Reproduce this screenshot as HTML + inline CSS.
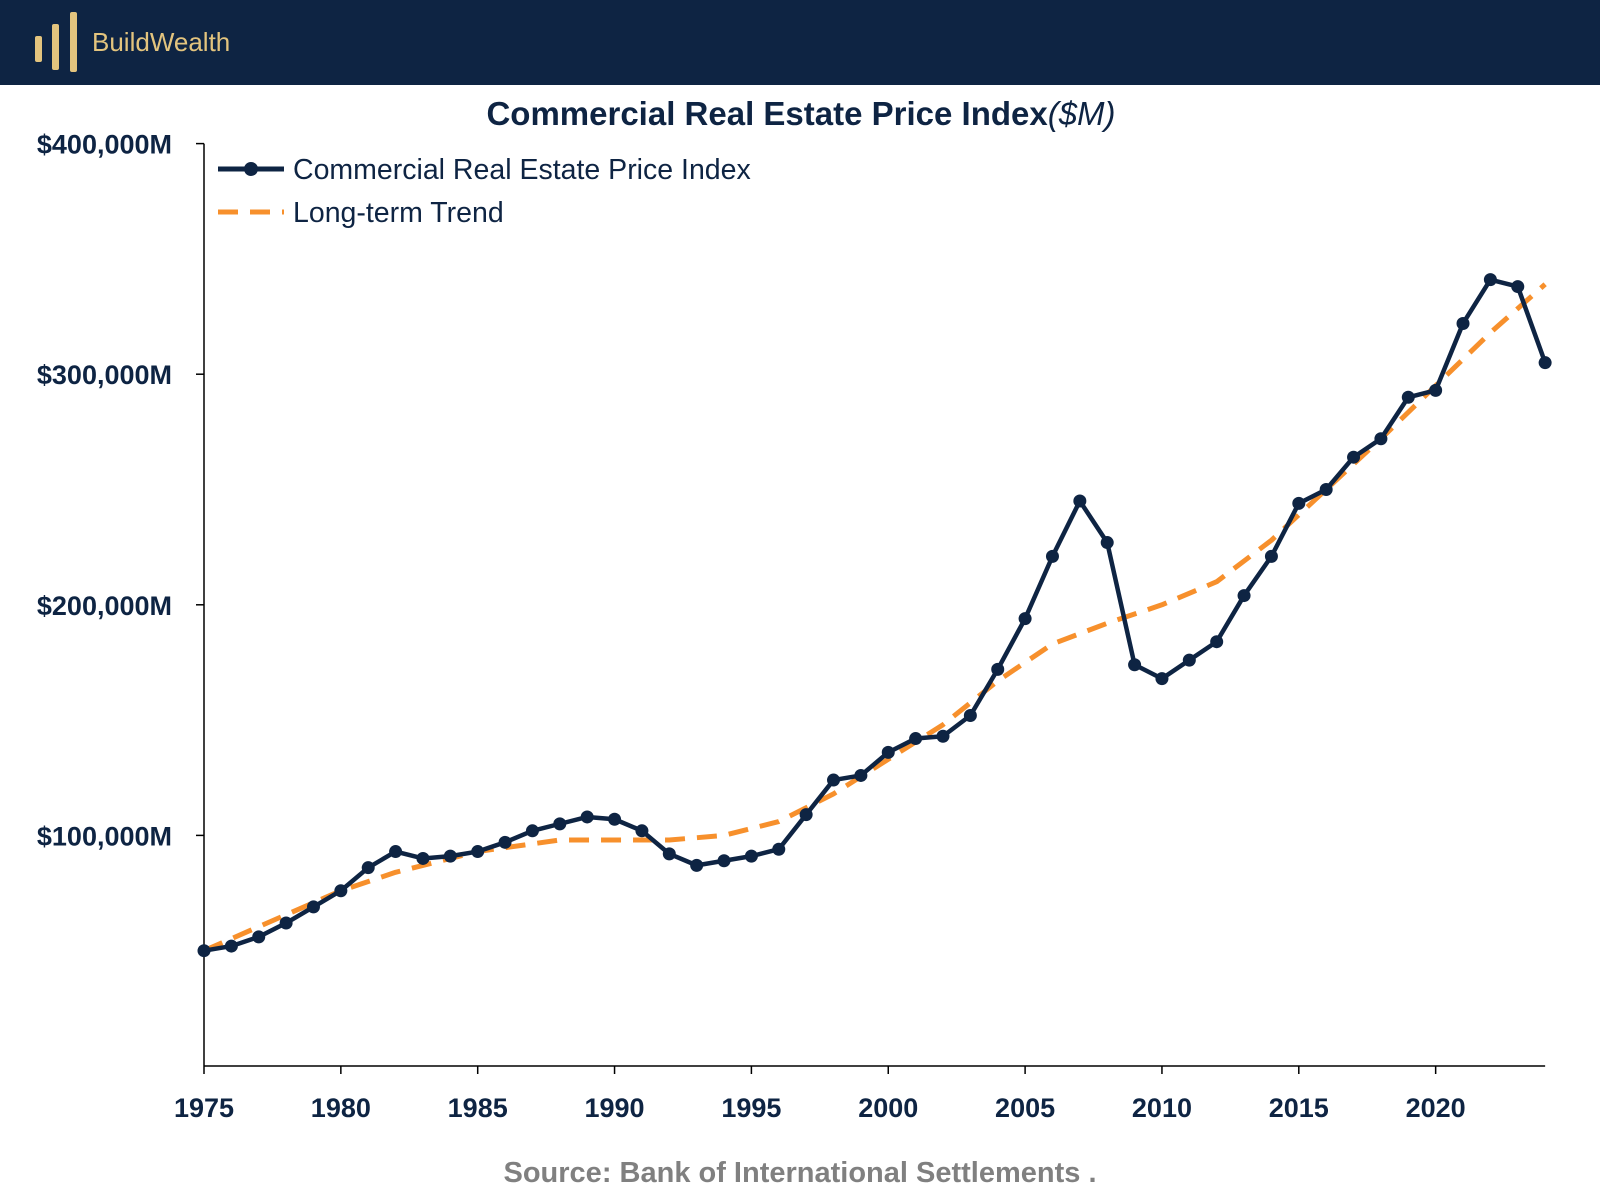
<!DOCTYPE html>
<html><head><meta charset="utf-8"><style>
html,body{margin:0;padding:0;background:#fff;width:1600px;height:1200px;overflow:hidden;font-family:"Liberation Sans",sans-serif}
</style></head><body>
<svg width="1600" height="1200" viewBox="0 0 1600 1200" xmlns="http://www.w3.org/2000/svg">
<rect x="0" y="0" width="1600" height="85" fill="#0e2443"/>
<g fill="#e3c47e">
<rect x="35" y="36" width="7" height="26" rx="2"/>
<rect x="52" y="24" width="7" height="46" rx="2"/>
<rect x="70" y="12" width="7" height="60" rx="2"/>
<text x="92" y="51" font-size="26" fill="#e3c47e">BuildWealth</text>
</g>
<text x="801" y="125" text-anchor="middle" font-size="33" font-weight="bold" fill="#0e2443">Commercial Real Estate Price Index<tspan font-weight="normal" font-style="italic">($M)</tspan></text>
<g id="axes"></g>
<g id="series"></g>
<g>
<line x1="218" y1="169" x2="284" y2="169" stroke="#0e2443" stroke-width="5"/>
<circle cx="251" cy="169" r="7" fill="#0e2443"/>
<text x="293" y="179" font-size="28.5" fill="#0e2443">Commercial Real Estate Price Index</text>
<line x1="218" y1="212" x2="284" y2="212" stroke="#f7902c" stroke-width="5" stroke-dasharray="20,12"/>
<text x="293" y="222" font-size="28.5" fill="#0e2443">Long-term Trend</text>
</g>
<text x="800" y="1182" text-anchor="middle" font-size="29" font-weight="bold" fill="#808080">Source: Bank of International Settlements .</text>
</svg>
<script>
const years=[1975,1976,1977,1978,1979,1980,1981,1982,1983,1984,1985,1986,1987,1988,1989,1990,1991,1992,1993,1994,1995,1996,1997,1998,1999,2000,2001,2002,2003,2004,2005,2006,2007,2008,2009,2010,2011,2012,2013,2014,2015,2016,2017,2018,2019,2020,2021,2022,2023,2024];
const indexValues=[50,52,56,62,69,76,86,93,90,91,93,97,102,105,108,107,102,92,87,89,91,94,109,124,126,136,142,143,152,172,194,221,245,227,174,168,176,184,204,221,244,250,264,272,290,293,322,341,338,305];
const trendYears=[1975,1980,1982,1985,1988,1990,1992,1994,1996,1998,2000,2002,2004,2006,2008,2010,2012,2014,2016,2018,2020,2022,2024];
const trendValues=[50,76,84,93,98,98,98,100,106,118,133,148,167,183,192,200,210,228,250,272,295,318,339];
const xTicks=[1975,1980,1985,1990,1995,2000,2005,2010,2015,2020];
const yTicks=[100,200,300,400];
const yTickLabels=["$100,000M","$200,000M","$300,000M","$400,000M"];
const NS="http://www.w3.org/2000/svg";
const X=y=>204+(y-1975)*27.37;
const Y=v=>1066-v*2.306;
function mk(tag,attrs,parent){const e=document.createElementNS(NS,tag);for(const k in attrs)e.setAttribute(k,attrs[k]);parent.appendChild(e);return e;}
const ax=document.getElementById('axes'),sr=document.getElementById('series');
let e=mk('line',{x1:204,y1:Y(400),x2:204,y2:1066,stroke:'#000','stroke-width':1.5},ax);


e=mk('line',{x1:204,y1:1066,x2:X(2024),y2:1066,stroke:'#000','stroke-width':1.5},ax);


yTicks.forEach((v,i)=>{
 mk('line',{x1:196,y1:Y(v),x2:204,y2:Y(v),stroke:'#000','stroke-width':1.5},ax);
 const t=mk('text',{x:172,y:Y(v)+10,'text-anchor':'end','font-size':27,'font-weight':'bold',fill:'#0e2443'},ax);
 t.textContent=yTickLabels[i];
 
 
});
xTicks.forEach(v=>{
 mk('line',{x1:X(v),y1:1066,x2:X(v),y2:1074,stroke:'#000','stroke-width':1.5},ax);
 const t=mk('text',{x:X(v),y:1117,'text-anchor':'middle','font-size':27,'font-weight':'bold',fill:'#0e2443'},ax);
 t.textContent=v;
 
 
});
const tp=mk('polyline',{points:trendYears.map((y,i)=>X(y)+','+Y(trendValues[i])).join(' '),fill:'none',stroke:'#f7902c','stroke-width':5,'stroke-dasharray':'20,12','stroke-linejoin':'round'},sr);


const lp=mk('polyline',{points:years.map((y,i)=>X(y)+','+Y(indexValues[i])).join(' '),fill:'none',stroke:'#0e2443','stroke-width':4.5,'stroke-linejoin':'round'},sr);


years.forEach((y,i)=>{
 const c=mk('circle',{cx:X(y),cy:Y(indexValues[i]),r:6.5,fill:'#0e2443'},sr);
 
 
});
</script>
</body></html>
